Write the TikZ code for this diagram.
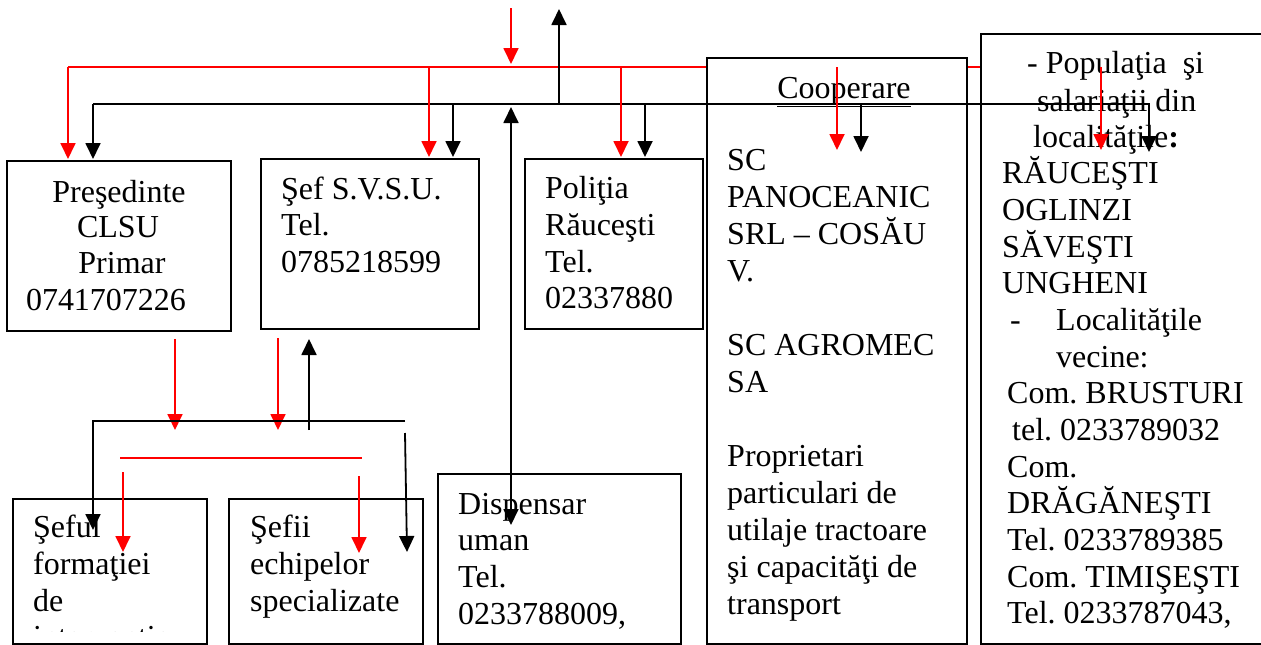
\documentclass[tikz,border=0pt]{standalone}
\usepackage{fontspec}
\setmainfont{Liberation Serif}
\usetikzlibrary{arrows.meta}
\frenchspacing
\tikzset{
  box/.style={draw, line width=2pt, fill=white, rectangle, inner sep=0pt, anchor=north west},
  txt/.style={anchor=base west, inner sep=0pt, font=\fontsize{32pt}{37pt}\selectfont\frenchspacing},
  ctxt/.style={anchor=base, inner sep=0pt, font=\fontsize{32pt}{37pt}\selectfont\frenchspacing},
  redline/.style={red, line width=1.8pt},
  blkline/.style={black, line width=1.8pt},
  arr/.style={-{Triangle[length=16pt,width=15pt]}},
  arrboth/.style={{Triangle[length=16pt,width=15pt]}-{Triangle[length=16pt,width=15pt]}},
}
\begin{document}
\begin{tikzpicture}[x=1pt,y=-1pt]
\useasboundingbox (0,0) rectangle (1261,645);

% red distribution line (hidden behind the Cooperare box)
\coordinate (rL) at (68,67);
\coordinate (rR) at (980,67);
\draw[redline] (rL) -- (rR);

% boxes
\node[box, minimum width=224pt, minimum height=170pt] (pres) at (6,160) {};
\node[box, minimum width=218pt, minimum height=170pt] (svsu) at (260,158) {};
\node[box, minimum width=178pt, minimum height=170pt] (pol) at (524,158) {};
\node[box, minimum width=260pt, minimum height=586pt] (coop) at (706,57) {};
\node[box, minimum width=300pt, minimum height=610pt] (pop) at (980,33) {};
\node[box, minimum width=243pt, minimum height=170pt] (disp) at (437,473) {};
\node[box, minimum width=194pt, minimum height=145pt] (sefu) at (12,498) {};
\node[box, minimum width=194pt, minimum height=145pt] (sefii) at (228,498) {};

% texts
\node[ctxt] (p1) at (119,202) {Preşedinte};
\node[ctxt] (p2) at (118,237) {CLSU};
\node[ctxt] (p3) at (122,273) {Primar};
\node[ctxt] (p4) at (106,310) {0741707226};

\node[txt] (s1) at (281,199) {Şef S.V.S.U.};
\node[txt] (s2) at (281,235) {Tel.};
\node[txt] (s3) at (281,272) {0785218599};

\node[txt] (o1) at (545,198) {Poliţia};
\node[txt] (o2) at (545,235) {Răuceşti};
\node[txt] (o3) at (545,272) {Tel.};
\node[txt] (o4) at (545,308) {02337880};

\node[ctxt] (c0) at (844,98) {\underline{Cooperare}};
\node[txt] (c1) at (727,170) {SC};
\node[txt] (c2) at (727,207) {PANOCEANIC};
\node[txt] (c3) at (727,244) {SRL – COSĂU};
\node[txt] (c4) at (727,281) {V.};
\node[txt] (c5) at (727,355) {SC AGROMEC};
\node[txt] (c6) at (727,392) {SA};
\node[txt] (c7) at (727,466) {Proprietari};
\node[txt] (c8) at (727,503) {particulari de};
\node[txt] (c9) at (727,540) {utilaje tractoare};
\node[txt] (c10) at (727,577) {şi capacităţi de};
\node[txt] (c11) at (727,614) {transport};

\node[txt] (q1) at (1027,73) {- Populaţia\ \ şi};
\node[txt] (q2) at (1037,111) {salariaţii din};
\node[txt] (q3) at (1033,147) {localităţile\textbf{:}};
\node[txt] (q4) at (1002,183) {RĂUCEŞTI};
\node[txt] (q5) at (1002,220) {OGLINZI};
\node[txt] (q6) at (1002,257) {SĂVEŞTI};
\node[txt] (q7) at (1002,293) {UNGHENI};
\node[txt] (q8a) at (1010,330) {-};
\node[txt] (q8) at (1056,330) {Localităţile};
\node[txt] (q9) at (1056,367) {vecine:};
\node[txt] (q10) at (1007,403) {Com. BRUSTURI};
\node[txt] (q11) at (1012,440) {tel. 0233789032};
\node[txt] (q12) at (1007,477) {Com.};
\node[txt] (q13) at (1007,513) {DRĂGĂNEŞTI};
\node[txt] (q14) at (1007,550) {Tel. 0233789385};
\node[txt] (q15) at (1007,587) {Com. TIMIŞEŞTI};
\node[txt] (q16) at (1007,623) {Tel. 0233787043,};

\node[txt] (d1) at (458,514) {Dispensar};
\node[txt] (d2) at (458,550) {uman};
\node[txt] (d3) at (458,587) {Tel.};
\node[txt] (d4) at (458,624) {0233788009,};

\node[txt] (f1) at (33,537) {Şeful};
\node[txt] (f2) at (33,574) {formaţiei};
\node[txt] (f3) at (33,611) {de};
\begin{scope}
  \clip (13,500) rectangle (205,631);
  \node[txt] (f4) at (33,647) {intervenţie};
\end{scope}

\node[txt] (e1) at (250,537) {Şefii};
\node[txt] (e2) at (250,574) {echipelor};
\node[txt] (e3) at (250,611) {specializate};

% top connectors
\coordinate (inR) at (511,8);
\draw[redline, arr] (inR) -- (511,64);
\coordinate (outB) at (559,9);
\draw[blkline, arr] (559,104) -- (outB);

\coordinate (bL) at (93,104);
\coordinate (bR) at (1149,104);
\draw[blkline, arr] (bL) -- (93,159);
\draw[blkline, arr] (bL) -- (bR) -- (1149,152);

\draw[redline, arr] (rL) -- (68,159);
\draw[redline, arr] (429,67) -- (429,157);
\draw[redline, arr] (621,67) -- (621,157);
\draw[redline, arr] (837,67) -- (837,150);
\draw[redline, arr] (1101,67) -- (1101,150);

\draw[blkline, arr] (453,104) -- (453,157);
\draw[blkline, arr] (645,104) -- (645,157);
\draw[blkline, arr] (861,104) -- (861,152);

% Dispensar link
\draw[blkline, arrboth] (511,525) -- (511,107);

% lower connectors
\draw[redline, arr] (175,339) -- (175,430);
\draw[redline, arr] (278,338) -- (278,430);
\draw[blkline, arr] (309,430) -- (309,339);

\coordinate (lL) at (93,421);
\coordinate (lR) at (405,421);
\draw[blkline, arr] (lR) -- (lL) -- (93,530);
\draw[blkline, arr] (405,433) -- (407,552);

\coordinate (mL) at (120,458);
\coordinate (mR) at (362,458);
\draw[redline] (mL) -- (mR);
\draw[redline, arr] (123,472) -- (123,552);
\draw[redline, arr] (359,476) -- (359,553);
\end{tikzpicture}
\end{document}
